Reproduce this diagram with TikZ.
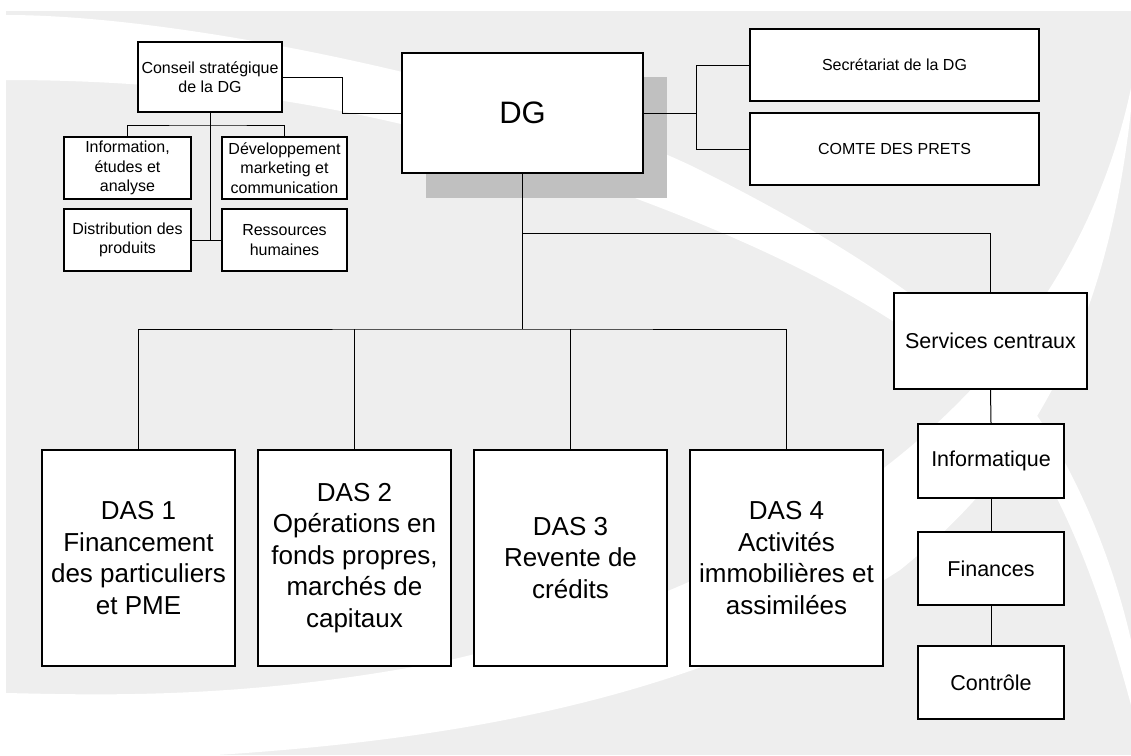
\documentclass[tikz,border=0pt]{standalone}
\usepackage{fontspec}
\setmainfont{Liberation Sans}
\definecolor{bggrey}{HTML}{EEEEEE}
\definecolor{shadowgrey}{HTML}{C0C0C0}
\begin{document}
\begin{tikzpicture}[x=1pt,y=-1pt,
  box/.style={draw=black, line width=1.5pt, fill=white, rectangle, inner sep=0pt, align=center, text=black},
  conn/.style={draw=black, line width=1pt},
  fsmall/.style={font=\fontsize{16}{19.2}\selectfont},
  fmid/.style={font=\fontsize{21.5}{25.8}\selectfont},
  fbig/.style={font=\fontsize{26}{31.5}\selectfont},
  fdg/.style={font=\fontsize{31}{37}\selectfont}]
\useasboundingbox (0,0) rectangle (1131,755);
% background
\fill[white] (0,0) rectangle (1131,755);
\fill[bggrey] (6,11) rectangle (1131,755);
% swoosh 1 (top-left to lower right)
\fill[white] (6,15) .. controls (200,15) and (550,95) .. (700,170)
  .. controls (850,245) and (980,330) .. (1040,420)
  .. controls (1085,490) and (1115,570) .. (1131,640)
  -- (1131,705)
  .. controls (1100,590) and (1060,480) .. (1000,410)
  .. controls (930,330) and (800,260) .. (640,200)
  .. controls (500,145) and (300,80) .. (6,80) -- cycle;
% swoosh 2 (top-right crescent to bottom-left)
\fill[white] (1131,88) .. controls (1080,330) and (880,560) .. (450,660)
  .. controls (250,700) and (100,695) .. (6,693)
  -- (0,693) -- (0,755) -- (216,755)
  .. controls (450,740) and (700,700) .. (900,570)
  .. controls (1050,450) and (1110,300) .. (1131,110) -- cycle;
% shadow of DG
\fill[shadowgrey] (426,77) rectangle (667,198);
% nodes
\node[box, fsmall, minimum width=144pt, minimum height=70pt] (conseil) at (210,77) {Conseil stratégique\\de la DG};
\node[box, fsmall, minimum width=127pt, minimum height=62pt] (info) at (127.5,168) {Information,\\études et\\analyse};
\node[box, fsmall, minimum width=125pt, minimum height=62pt] (dev) at (284.5,168) {Développement\\marketing et\\communication};
\node[box, fsmall, minimum width=127pt, minimum height=62pt] (dist) at (127.5,240) {Distribution des\\produits};
\node[box, fsmall, minimum width=125pt, minimum height=62pt] (ress) at (284.5,240) {Ressources\\humaines};
\node[box, fdg, minimum width=241pt, minimum height=120pt] (dg) at (522.5,113) {DG};
\node[box, fsmall, minimum width=289pt, minimum height=72pt] (sec) at (894.5,65) {Secrétariat de la DG};
\node[box, fsmall, minimum width=289pt, minimum height=72pt] (comte) at (894.5,149) {COMTE DES PRETS};
\node[box, fmid, minimum width=193pt, minimum height=96pt] (serv) at (990.5,341) {Services centraux};
\node[box, fmid, minimum width=146pt, minimum height=74pt] (infq) at (991,461) {Informatique};
\node[box, fmid, minimum width=146pt, minimum height=73pt] (fin) at (991,568.5) {Finances};
\node[box, fmid, minimum width=146pt, minimum height=73pt] (ctrl) at (991,682.5) {Contrôle};
\node[box, fbig, minimum width=193pt, minimum height=216pt] (das1) at (138.5,558) {DAS 1\\Financement\\des particuliers\\et PME};
\node[box, fbig, minimum width=193pt, minimum height=216pt] (das2) at (354.5,558) {DAS 2\\Opérations en\\fonds propres,\\marchés de\\capitaux};
\node[box, fbig, minimum width=193pt, minimum height=216pt] (das3) at (570.5,558) {DAS 3\\Revente de\\crédits};
\node[box, fbig, minimum width=193pt, minimum height=216pt] (das4) at (786.5,558) {DAS 4\\Activités\\immobilières et\\assimilées};
% junction coordinates
\coordinate (cj) at (210,125);
\coordinate (rj) at (696,113);
\coordinate (bus) at (522.5,329);
\coordinate (sj) at (522.5,233);
% connectors
\draw[conn] (conseil.east) -- ++(60,0) |- (dg.west);
\draw[conn] (conseil.south) -- (conseil.south |- dist.east);
\draw[conn] (dist.east) -- (ress.west);
\draw[conn] (info.north) |- (cj) -| (dev.north);
\draw[conn] (dg.east) -- (rj);
\draw[conn] (sec.west) -| (rj) |- (comte.west);
\draw[conn] (dg.south) -- (bus);
\draw[conn] (sj) -| (serv.north);
\draw[conn] (das1.north) |- (bus) -| (das4.north);
\draw[conn] (das2.north) -- (das2.north |- bus);
\draw[conn] (das3.north) -- (das3.north |- bus);
\draw[conn] (serv.south) -- (infq.north);
\draw[conn] (infq.south) -- (fin.north);
\draw[conn] (fin.south) -- (ctrl.north);
\end{tikzpicture}
\end{document}
